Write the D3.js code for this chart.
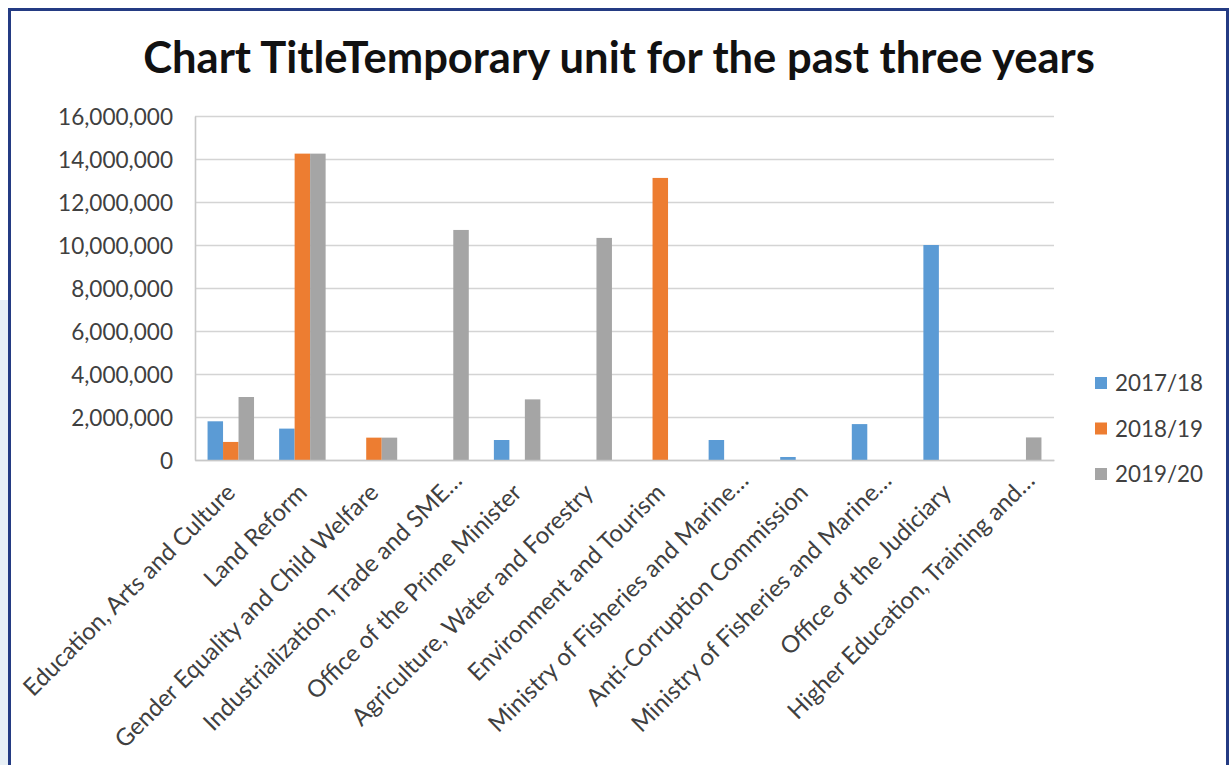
<!DOCTYPE html>
<html><head><meta charset="utf-8">
<script src="https://cdn.jsdelivr.net/npm/d3@7"></script>
<style>html,body{margin:0;padding:0;background:#fff}svg{display:block}</style>
</head><body>
<script>
// ---------------- data ----------------
const chartTitle = "Chart TitleTemporary unit for the past three years";
const categories = [
  "Education, Arts and Culture",
  "Land Reform",
  "Gender Equality and Child Welfare",
  "Industrialization, Trade and SME…",
  "Office of the Prime Minister",
  "Agriculture, Water and Forestry",
  "Environment and Tourism",
  "Ministry of Fisheries and Marine…",
  "Anti-Corruption Commission",
  "Ministry of Fisheries and Marine… ",
  "Office of the Judiciary",
  "Higher Education, Training and…"
];
const seriesNames = ["2017/18", "2018/19", "2019/20"];
const values2017 = [1800000, 1460000, 0, 0, 930000, 0, 0, 930000, 140000, 1670000, 10000000, 0];
const values2018 = [840000, 14250000, 1040000, 0, 0, 0, 13120000, 0, 0, 0, 0, 0];
const values2019 = [2930000, 14250000, 1040000, 10700000, 2820000, 10330000, 0, 0, 0, 0, 0, 1050000];
const yTicks = [0, 2000000, 4000000, 6000000, 8000000, 10000000, 12000000, 14000000, 16000000];
const seriesColors = ["#5b9bd5", "#ed7d31", "#a5a5a5"];

const seriesValues = [values2017, values2018, values2019];

// ---------------- layout ----------------
const W = 1232, H = 765;
const plot = {left: 195, right: 1054, top: 116, bottom: 460};
const FONT = "Lato, 'Open Sans', sans-serif";

const svg = d3.select("body").append("svg").attr("width", W).attr("height", H);

function fitSize(txt, target, weight) {
  const t = svg.append("text").attr("font-family", FONT).attr("font-weight", weight)
    .attr("font-size", 100).text(txt);
  const w = t.node().getComputedTextLength();
  t.remove();
  return 100 * target / w;
}

// decorative left strip
svg.append("rect").attr("x", 0).attr("y", 0).attr("width", 8).attr("height", H).attr("fill", "#e8f0f6");
svg.append("rect").attr("x", 0).attr("y", 0).attr("width", 8).attr("height", 300).attr("fill", "#ffffff");
// frame
svg.append("rect").attr("x", 9.5).attr("y", 9.5).attr("width", 1218).attr("height", H + 20)
  .attr("fill", "#fff").attr("stroke", "#243b83").attr("stroke-width", 3);

// title
const titleSize = fitSize(chartTitle, 952, 700);
svg.append("text").attr("x", 619).attr("y", 73).attr("text-anchor", "middle")
  .attr("font-family", FONT).attr("font-weight", 700).attr("font-size", titleSize)
  .attr("fill", "#111").text(chartTitle);

// scales
const x = d3.scaleBand().domain(categories).range([plot.left, plot.right]).paddingInner(0).paddingOuter(0);
const xs = d3.scaleBand().domain(seriesNames).range([0, x.bandwidth()]).paddingInner(0).paddingOuter(0.81);
const y = d3.scaleLinear().domain([0, 16000000]).range([plot.bottom, plot.top]);

// gridlines
svg.append("g").attr("transform", `translate(${plot.left},0)`)
  .call(d3.axisLeft(y).tickValues(yTicks).tickSize(-(plot.right - plot.left)).tickFormat(""))
  .call(g => g.select(".domain").remove())
  .call(g => g.selectAll("line").attr("stroke", "#d4d4d4").attr("stroke-width", 1.6));

// y axis labels
const yFont = fitSize("16,000,000", 115, 400);
svg.append("g").attr("transform", `translate(${plot.left},0)`)
  .call(d3.axisLeft(y).tickValues(yTicks).tickSize(0).tickPadding(22).tickFormat(d3.format(",")))
  .call(g => g.select(".domain").attr("stroke", "#c8c8c8").attr("stroke-width", 1.6))
  .call(g => g.selectAll("text").attr("font-family", FONT).attr("font-size", yFont)
    .attr("fill", "#404040").attr("dy", "0.38em"));

// bars
const groups = svg.append("g").selectAll("g").data(categories).join("g")
  .attr("transform", d => `translate(${x(d)},0)`);
groups.selectAll("rect").data((d, i) => seriesNames.map((s, k) => ({s, k, v: seriesValues[k][i]})))
  .join("rect")
  .attr("x", d => xs(d.s)).attr("width", xs.bandwidth())
  .attr("y", d => y(d.v)).attr("height", d => y(0) - y(d.v))
  .attr("fill", d => seriesColors[d.k]);

// x axis
const xFont = fitSize("Education, Arts and Culture", 288, 400);
svg.append("g").attr("transform", `translate(0,${plot.bottom})`)
  .call(d3.axisBottom(x).tickSize(0).tickFormat(d => d.trim()))
  .call(g => g.select(".domain").attr("stroke", "#c8c8c8").attr("stroke-width", 1.6))
  .call(g => g.selectAll(".tick text")
    .attr("font-family", FONT).attr("font-size", xFont).attr("fill", "#404040")
    .attr("text-anchor", "end")
    .attr("transform", d => {
      const extra = d.trim().endsWith("…") ? 12 : 0;
      return `translate(${6 + extra},${34 - extra}) rotate(-45)`;
    })
    .attr("x", 0).attr("y", 0).attr("dy", 0));

// legend
const legFont = fitSize("2017/18", 88, 400);
const leg = svg.append("g").selectAll("g").data(seriesNames).join("g")
  .attr("transform", (d, i) => `translate(1095,${383 + i * 45.5})`);
leg.append("rect").attr("x", 0).attr("y", -6).attr("width", 12).attr("height", 12)
  .attr("fill", (d, i) => seriesColors[i]);
leg.append("text").attr("x", 20).attr("y", 0).attr("dy", "0.36em")
  .attr("font-family", FONT).attr("font-size", legFont).attr("fill", "#404040").text(d => d);
</script>
</body></html>
